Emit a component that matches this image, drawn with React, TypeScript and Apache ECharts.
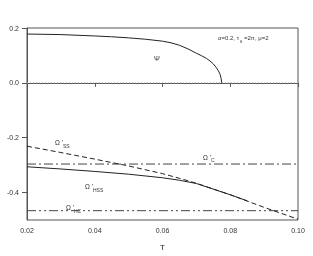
import React, { useEffect, useRef } from "react";
import * as echarts from "echarts";

const psiT = [0.02, 0.03, 0.04, 0.045, 0.05, 0.055, 0.06, 0.0625, 0.065, 0.0675, 0.07, 0.0715, 0.073, 0.074, 0.075, 0.0758, 0.0765, 0.077, 0.0773, 0.0775];
const psiV = [0.178, 0.176, 0.171, 0.168, 0.164, 0.159, 0.152, 0.146, 0.137, 0.124, 0.108, 0.099, 0.089, 0.08, 0.069, 0.057, 0.044, 0.031, 0.016, 0];

const ssT = [0.02, 0.03, 0.04, 0.05, 0.06, 0.065, 0.07, 0.08, 0.09, 0.1];
const ssV = [-0.231, -0.254, -0.278, -0.303, -0.331, -0.348, -0.366, -0.408, -0.454, -0.497];

const hssT = [0.02, 0.03, 0.04, 0.05, 0.06, 0.065, 0.07, 0.08, 0.085];
const hssV = [-0.306, -0.314, -0.323, -0.333, -0.346, -0.355, -0.367, -0.408, -0.43];

const omegaC = -0.296;
const omegaHC = -0.466;
const xRange = [0.02, 0.1];

const yLabelValues = [-0.4, -0.2, 0, 0.2];

const pairs = (xs: number[], ys: number[]) => xs.map((x, i) => [x, ys[i]]);

export default function App() {
  const ref = useRef<HTMLDivElement>(null);
  useEffect(() => {
    if (!ref.current) return;
    const chart = echarts.init(ref.current, null, { renderer: "svg" });
    const ink = "#222";
    const font = "Liberation Sans";
    const small = (text: string, x: number, y: number, size: number) => ({
      type: "text",
      x,
      y,
      style: { text, fontSize: size, fontFamily: font, fill: "#333" },
    });
    chart.setOption({
      animation: false,
      grid: { left: 27, right: 15, top: 28, bottom: 34, show: true, borderColor: "#555", borderWidth: 1 },
      xAxis: {
        type: "value",
        min: xRange[0],
        max: xRange[1],
        interval: 0.02,
        name: "T",
        nameLocation: "middle",
        nameGap: 23,
        nameTextStyle: { fontSize: 8, fontFamily: font, color: "#222" },
        axisLine: { show: true, lineStyle: { color: "#555" } },
        axisTick: { show: true, length: 4, lineStyle: { color: "#555" } },
        axisLabel: { fontSize: 7, fontFamily: font, color: "#333", margin: 7, formatter: (v: number) => v.toFixed(2) },
        splitLine: { show: false },
      },
      yAxis: {
        type: "value",
        min: -0.5,
        max: 0.2,
        interval: 0.1,
        axisLine: { show: true, lineStyle: { color: "#555" } },
        axisTick: { show: true, length: 5, customValues: yLabelValues, lineStyle: { color: "#555" } },
        axisLabel: { fontSize: 7, fontFamily: font, color: "#333", margin: 8, customValues: yLabelValues, formatter: (v: number) => v.toFixed(1) },
        splitLine: { show: false },
      },
      series: [
        {
          type: "line",
          data: pairs(xRange, [0, 0]),
          symbol: "none",
          lineStyle: { color: "#aaa", width: 1, type: [1, 2] },
        },
        {
          type: "line",
          data: pairs(psiT, psiV),
          symbol: "none",
          lineStyle: { color: ink, width: 1 },
        },
        {
          type: "line",
          data: pairs(xRange, [omegaC, omegaC]),
          symbol: "none",
          lineStyle: { color: "#444", width: 1, type: [9, 3, 2, 3] },
        },
        {
          type: "line",
          data: pairs(xRange, [omegaHC, omegaHC]),
          symbol: "none",
          lineStyle: { color: "#444", width: 1, type: [9, 3, 2, 3, 2, 3] },
        },
        {
          type: "line",
          data: pairs(ssT, ssV),
          symbol: "none",
          lineStyle: { color: ink, width: 1, type: [5, 3] },
        },
        {
          type: "line",
          data: pairs(hssT, hssV),
          symbol: "none",
          lineStyle: { color: ink, width: 1 },
        },
      ],
      graphic: [
        small("Ψ", 154, 55, 7),
        small("α=0.2, τ", 218, 35, 6),
        small("s", 240, 39, 4.5),
        small("=2π, μ=2", 244, 35, 6),
        small("Ω '", 55, 139, 6.5),
        small("SS", 63, 143, 5),
        small("Ω '", 203, 154, 6.5),
        small("C", 211, 157, 5),
        small("Ω '", 85, 183, 6.5),
        small("HSS", 93, 187, 5),
        small("Ω '", 66, 204, 6.5),
        small("HC", 74, 208, 5),
      ],
    });
    return () => chart.dispose();
  }, []);
  return <div ref={ref} style={{ position: "fixed", left: 0, top: 0, width: 313, height: 256 }} />;
}
